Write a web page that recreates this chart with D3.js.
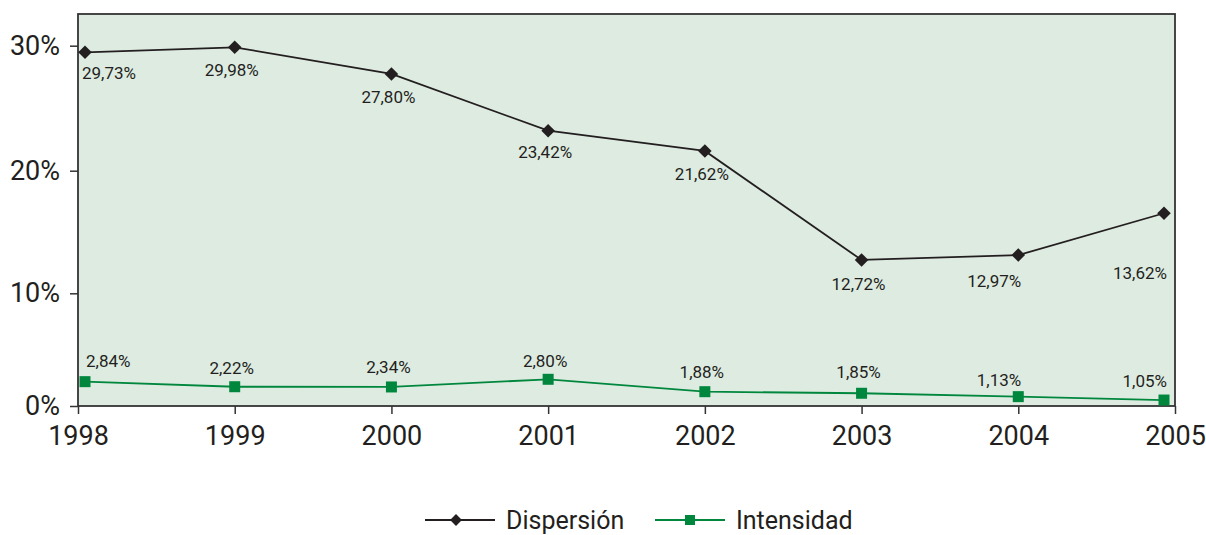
<!DOCTYPE html>
<html>
<head>
<meta charset="utf-8">
<script src="https://cdn.jsdelivr.net/npm/d3@7"></script>
<style>
  html, body { margin: 0; padding: 0; background: #ffffff; }
  svg { display: block; }
  text { font-family: Roboto, "Liberation Sans", sans-serif; fill: #231f20; }
</style>
</head>
<body>
<svg id="chart" width="1206" height="535"></svg>
<script>
// ---- data ----
const years = [1998, 1999, 2000, 2001, 2002, 2003, 2004, 2005];
const dispersion = [29.47, 29.87, 27.74, 23.2, 21.58, 12.72, 13.12, 16.53];
const intensidad = [2.16, 1.71, 1.69, 2.37, 1.27, 1.13, 0.83, 0.53];
const dispersionLabels = ["29,73%", "29,98%", "27,80%", "23,42%", "21,62%", "12,72%", "12,97%", "13,62%"];
const intensidadLabels = ["2,84%", "2,22%", "2,34%", "2,80%", "1,88%", "1,85%", "1,13%", "1,05%"];
const yTicks = [0, 10, 20, 30];
const seriesNames = ["Dispersión", "Intensidad"];

// ---- layout ----
const svg = d3.select("#chart");
const plot = { left: 78, top: 14, right: 1175, bottom: 406 };
const colors = { dark: "#231f20", green: "#00873e", bg: "#deebe1", axis: "#333333" };

const x = d3.scalePoint().domain(years).range([plot.left, plot.right]);
// axis in the reference is not evenly spaced: polylinear scale
const y = d3.scaleLinear().domain([0, 10, 20, 30]).range([plot.bottom, 293.3, 170.7, 45.7]);

const inset = { l: 7, r: 11 };
const mx = d => Math.min(Math.max(x(d), plot.left + inset.l), plot.right - inset.r);
const parseLbl = s => +s.replace(",", ".").replace("%", "");

// background
svg.append("rect")
  .attr("x", plot.left).attr("y", plot.top)
  .attr("width", plot.right - plot.left).attr("height", plot.bottom - plot.top)
  .attr("fill", colors.bg);

// axes
const yAxis = svg.append("g")
  .attr("transform", `translate(${plot.left},0)`)
  .call(d3.axisLeft(y).tickValues(yTicks).tickFormat(d => d + "%").tickSize(8).tickPadding(10));
yAxis.select(".domain").remove();
yAxis.selectAll("line").attr("stroke", colors.axis).attr("stroke-width", 1.5);
yAxis.selectAll("text").attr("font-size", 27).attr("font-family", "Roboto").attr("fill", colors.dark);

const xAxis = svg.append("g")
  .attr("transform", `translate(0,${plot.bottom})`)
  .call(d3.axisBottom(x).tickSize(8).tickPadding(12).tickFormat(d => String(d)));
xAxis.select(".domain").remove();
xAxis.selectAll("line").attr("stroke", colors.axis).attr("stroke-width", 1.5);
xAxis.selectAll("text").attr("font-size", 27).attr("font-family", "Roboto").attr("fill", colors.dark);

// frame
svg.append("rect")
  .attr("x", plot.left).attr("y", plot.top)
  .attr("width", plot.right - plot.left).attr("height", plot.bottom - plot.top)
  .attr("fill", "none").attr("stroke", colors.axis).attr("stroke-width", 1.8);

const line = d3.line().x((d, i) => mx(years[i])).y(d => y(d));

// Dispersión
svg.append("path").datum(dispersion)
  .attr("d", line).attr("fill", "none")
  .attr("stroke", colors.dark).attr("stroke-width", 1.8);
svg.append("g").selectAll("path").data(dispersion).join("path")
  .attr("d", d3.symbol(d3.symbolSquare, 92))
  .attr("transform", (d, i) => `translate(${mx(years[i])},${y(d)}) rotate(45)`)
  .attr("fill", colors.dark);

// Intensidad
svg.append("path").datum(intensidad)
  .attr("d", line).attr("fill", "none")
  .attr("stroke", colors.green).attr("stroke-width", 1.8);
svg.append("g").selectAll("rect").data(intensidad).join("rect")
  .attr("x", (d, i) => mx(years[i]) - 5.5).attr("y", d => y(d) - 5.5)
  .attr("width", 11).attr("height", 11)
  .attr("fill", colors.green);

// data labels
const anchor = i => i === 0 ? "start" : (i >= years.length - 2 ? "end" : "middle");
const lx = i => i === 0 ? mx(years[i]) - 3 : (i >= years.length - 2 ? mx(years[i]) + 3 : mx(years[i]) - 3);

svg.append("g").selectAll("text").data(dispersionLabels).join("text")
  .attr("x", (d, i) => lx(i))
  .attr("y", d => y(parseLbl(d)) + 24)
  .attr("dy", "0.35em")
  .attr("text-anchor", (d, i) => anchor(i))
  .attr("font-size", 17)
  .text(d => d);

svg.append("g").selectAll("text").data(intensidadLabels).join("text")
  .attr("x", (d, i) => i === 0 ? mx(years[i]) + 1 : lx(i))
  .attr("y", d => y(parseLbl(d)) - 13)
  .attr("dy", "0.35em")
  .attr("text-anchor", (d, i) => anchor(i))
  .attr("font-size", 17)
  .text(d => d);

// legend
const legend = svg.append("g").attr("transform", "translate(0,520)");
const items = [
  { name: seriesNames[0], color: colors.dark, x0: 425, type: "diamond" },
  { name: seriesNames[1], color: colors.green, x0: 655, type: "square" }
];
items.forEach(it => {
  const g = legend.append("g").attr("transform", `translate(${it.x0},0)`);
  g.append("line").attr("x1", 0).attr("x2", 70).attr("y1", 0).attr("y2", 0)
    .attr("stroke", it.color).attr("stroke-width", 1.8);
  if (it.type === "diamond") {
    g.append("path").attr("d", d3.symbol(d3.symbolSquare, 70))
      .attr("transform", "translate(31,0) rotate(45)").attr("fill", it.color);
  } else {
    g.append("rect").attr("x", 30).attr("y", -5).attr("width", 10).attr("height", 10).attr("fill", it.color);
  }
  g.append("text").attr("x", 81).attr("y", 0).attr("dy", "0.35em")
    .attr("font-size", 25).text(it.name);
});
</script>
</body>
</html>
